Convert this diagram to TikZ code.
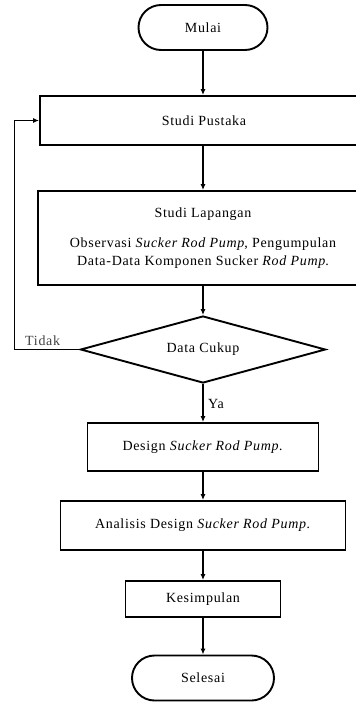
\documentclass[tikz,border=0pt]{standalone}
\usepackage{fontspec}
\setmainfont[LetterSpace=5]{Liberation Serif}
\usetikzlibrary{arrows.meta,shapes.geometric}
\begin{document}
\begin{tikzpicture}[x=1pt,y=-1pt,
  font=\fontsize{14}{18}\selectfont,
  box/.style={draw, line width=1.9pt, rectangle, inner sep=0pt, align=center},
  terminal/.style={draw, line width=1.9pt, rectangle, rounded corners=22.5pt,
    inner sep=0pt, minimum width=#1, minimum height=45pt},
  decision/.style={draw, line width=1.9pt, diamond, aspect=3.6, inner sep=0pt,
    minimum width=245pt, minimum height=67pt},
  flow/.style={line width=1.3pt, -{Latex[length=6pt,width=5pt]}},
  lbl/.style={inner sep=0pt}]
\useasboundingbox (0,0) rectangle (356,702);
\clip (0,0) rectangle (356,702);

% process blocks, top to bottom
\node[terminal=129pt] (mulai) at (203,27.5) {Mulai};
\node[box, minimum width=328pt, minimum height=49pt] (pustaka) at (204,120.5) {Studi Pustaka};
\node[box, minimum width=330pt, minimum height=94pt] (lapangan) at (203,238)
  {Studi Lapangan\\[12pt]
   Observasi \textit{Sucker Rod Pump}, Pengumpulan\\
   Data-Data Komponen Sucker \textit{Rod Pump}.};
\node[decision] (cukup) at (203,349.5) {Data Cukup};
\node[box, minimum width=231pt, minimum height=48pt] (design) at (203,447) {Design \textit{Sucker Rod Pump.}};
\node[box, minimum width=285pt, minimum height=49pt] (analisis) at (203,525.5) {Analisis Design \textit{Sucker Rod Pump.}};
\node[box, minimum width=155pt, minimum height=36pt] (simpul) at (203,599) {Kesimpulan};
\node[terminal=142pt] (selesai) at (203,678) {Selesai};

% main flow
\draw[flow] (mulai) -- (mulai.south |- pustaka.north);
\draw[flow] (pustaka.south -| lapangan.north) -- (lapangan.north);
\draw[flow] (lapangan) -- (cukup);
\draw[flow] (cukup) -- (design);
\draw[flow] (design) -- (analisis);
\draw[flow] (analisis) -- (simpul);
\draw[flow] (simpul) -- (selesai);

% loop back when the data is not sufficient
\draw[flow] (cukup.west) -- ++(-65,0) |- (pustaka.west);

\node[lbl, text=black!75, anchor=south west] (tidak) at (25,346) {Tidak};
\node[lbl, anchor=west] (ya) at (208,404) {Ya};
\end{tikzpicture}
\end{document}
